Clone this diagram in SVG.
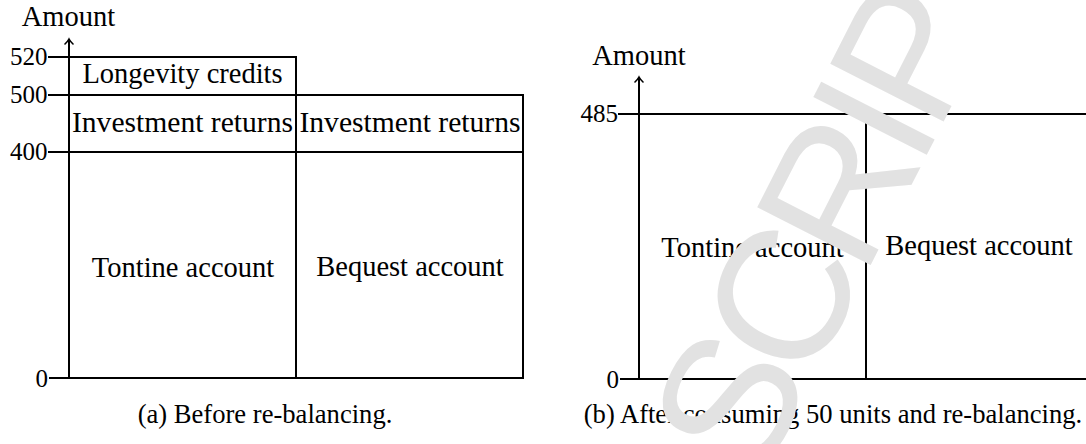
<svg xmlns="http://www.w3.org/2000/svg" width="1086" height="444" viewBox="0 0 1086 444">
<style>
.bx{fill:none;stroke:#000;stroke-width:2}
.ln{fill:none;stroke:#000;stroke-width:2}
.t{font-family:"Liberation Serif","Times New Roman",serif;font-size:28.5px;fill:#000;text-anchor:middle}
.iv{font-size:29.6px}
.n{font-family:"Liberation Serif","Times New Roman",serif;font-size:25px;fill:#000;text-anchor:end}
.cap{font-family:"Liberation Serif","Times New Roman",serif;font-size:26.6px;fill:#000;text-anchor:middle}
.wm{font-family:"Liberation Sans",Arial,sans-serif;font-size:185px;letter-spacing:-12px;fill:#e2e2e2}
</style>
<defs>
<marker id="ah" markerWidth="12" markerHeight="12" refX="6" refY="6" orient="auto" markerUnits="userSpaceOnUse">
<path d="M1,2 Q4,5 6,6 Q4,7 1,10" fill="none" stroke="#000" stroke-width="1.6" stroke-linecap="round"/>
</marker>
</defs>
<rect width="1086" height="444" fill="#fff"/>

<g id="panel-a">
<g id="a-longevity"><rect class="bx" x="69" y="57" width="227" height="38"/><text class="t" x="182.5" y="83">Longevity credits</text></g>
<g id="a-inv-tontine"><rect class="bx" x="69" y="95" width="227" height="57"/><text class="t iv" x="182.5" y="132">Investment returns</text></g>
<g id="a-inv-bequest"><rect class="bx" x="296" y="95" width="227" height="57"/><text class="t iv" x="410" y="132">Investment returns</text></g>
<g id="a-tontine"><rect class="bx" x="69" y="152" width="227" height="226"/><text class="t" x="183" y="277">Tontine account</text></g>
<g id="a-bequest"><rect class="bx" x="296" y="152" width="227" height="226"/><text class="t" x="410" y="276">Bequest account</text></g>
<g id="a-labels">
<text class="t" x="68.5" y="26">Amount</text>
<text class="n" x="47.5" y="65">520</text>
<text class="n" x="47.5" y="103">500</text>
<text class="n" x="47.5" y="160">400</text>
<text class="n" x="48" y="387">0</text>
<text class="cap" x="265" y="423">(a) Before re-balancing.</text>
</g>
</g>

<g id="panel-b">
<g id="b-tontine"><rect class="bx" x="639" y="114" width="227" height="265"/><text class="t" x="752.5" y="257">Tontine account</text></g>
<g id="b-bequest"><rect class="bx" x="866" y="114" width="227" height="265"/><text class="t" x="979" y="255">Bequest account</text></g>
<g id="b-labels">
<text class="t" x="639" y="65">Amount</text>
<text class="n" x="618" y="122">485</text>
<text class="n" x="619" y="388">0</text>
<text class="cap" x="833" y="423">(b) After consuming 50 units and re-balancing.</text>
</g>
</g>

<g id="connectors">
<path class="ln" d="M69,378 V39" marker-end="url(#ah)"/>
<path class="ln" d="M48,57 H69 M48,95 H69 M48,152 H69 M49,378 H69"/>
<path class="ln" d="M639,379 V77" marker-end="url(#ah)"/>
<path class="ln" d="M618,114 H639 M620,379 H639"/>
</g>

<text class="wm" transform="translate(758,486) rotate(-63)">SCRIPT</text>
</svg>
